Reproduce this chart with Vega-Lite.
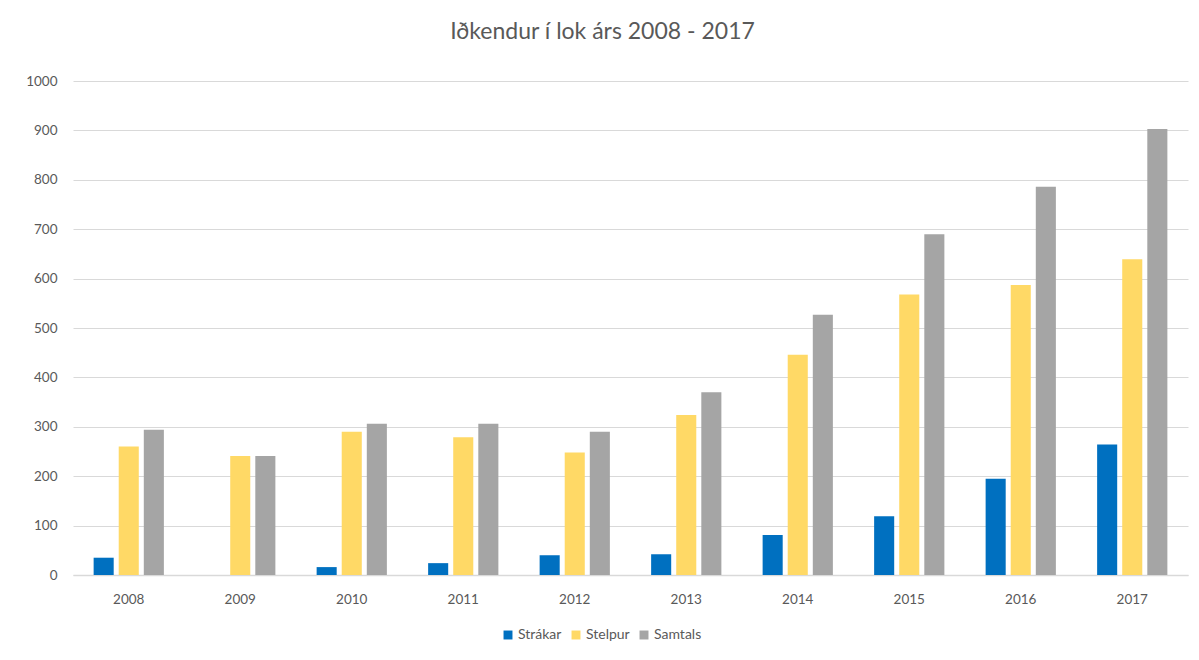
{
  "$schema": "https://vega.github.io/schema/vega-lite/v6.json",
  "autosize": "none",
  "width": 1115,
  "height": 494,
  "padding": {"left": 73, "top": 81, "right": 11, "bottom": 85},
  "background": "#ffffff",
  "title": {
    "text": "Iðkendur í lok árs 2008 - 2017",
    "font": "Lato",
    "fontSize": 23,
    "fontWeight": "normal",
    "color": "#595959",
    "anchor": "middle",
    "dx": -28,
    "offset": 30
  },
  "data": {
    "values": [
      {"year": "2008", "group": "Strákar", "value": 35},
      {"year": "2008", "group": "Stelpur", "value": 260},
      {"year": "2008", "group": "Samtals", "value": 294},
      {"year": "2009", "group": "Strákar", "value": 0},
      {"year": "2009", "group": "Stelpur", "value": 241},
      {"year": "2009", "group": "Samtals", "value": 241},
      {"year": "2010", "group": "Strákar", "value": 16},
      {"year": "2010", "group": "Stelpur", "value": 290},
      {"year": "2010", "group": "Samtals", "value": 306},
      {"year": "2011", "group": "Strákar", "value": 24},
      {"year": "2011", "group": "Stelpur", "value": 279},
      {"year": "2011", "group": "Samtals", "value": 306},
      {"year": "2012", "group": "Strákar", "value": 40},
      {"year": "2012", "group": "Stelpur", "value": 248},
      {"year": "2012", "group": "Samtals", "value": 290},
      {"year": "2013", "group": "Strákar", "value": 42},
      {"year": "2013", "group": "Stelpur", "value": 324},
      {"year": "2013", "group": "Samtals", "value": 370},
      {"year": "2014", "group": "Strákar", "value": 81},
      {"year": "2014", "group": "Stelpur", "value": 446},
      {"year": "2014", "group": "Samtals", "value": 527},
      {"year": "2015", "group": "Strákar", "value": 119},
      {"year": "2015", "group": "Stelpur", "value": 568},
      {"year": "2015", "group": "Samtals", "value": 690},
      {"year": "2016", "group": "Strákar", "value": 195},
      {"year": "2016", "group": "Stelpur", "value": 587},
      {"year": "2016", "group": "Samtals", "value": 786},
      {"year": "2017", "group": "Strákar", "value": 264},
      {"year": "2017", "group": "Stelpur", "value": 639},
      {"year": "2017", "group": "Samtals", "value": 903}
    ]
  },
  "mark": {"type": "bar"},
  "encoding": {
    "x": {
      "field": "year",
      "type": "nominal",
      "scale": {"paddingInner": 0.37, "paddingOuter": 0.185},
      "axis": {
        "title": null,
        "labelAngle": 0,
        "labelFont": "Lato",
        "labelFontSize": 13.5,
        "labelColor": "#595959",
        "labelPadding": 17,
        "ticks": false,
        "domainColor": "#d9d9d9",
        "domainWidth": 1.5,
        "grid": false
      }
    },
    "xOffset": {
      "field": "group",
      "type": "nominal",
      "sort": ["Strákar", "Stelpur", "Samtals"],
      "scale": {"paddingInner": 0.2, "paddingOuter": 0}
    },
    "y": {
      "field": "value",
      "type": "quantitative",
      "scale": {"domain": [0, 1000]},
      "axis": {
        "title": null,
        "format": "d",
        "values": [0, 100, 200, 300, 400, 500, 600, 700, 800, 900, 1000],
        "labelFont": "Lato",
        "labelFontSize": 13.5,
        "labelColor": "#595959",
        "labelPadding": 16,
        "ticks": false,
        "domain": false,
        "gridColor": "#d9d9d9",
        "gridWidth": 1.2
      }
    },
    "color": {
      "field": "group",
      "type": "nominal",
      "scale": {
        "domain": ["Strákar", "Stelpur", "Samtals"],
        "range": ["#0070c0", "#ffd966", "#a5a5a5"]
      },
      "legend": {
        "title": null,
        "orient": "none",
        "direction": "horizontal",
        "legendX": 428,
        "legendY": 547,
        "symbolType": "square",
        "symbolSize": 80,
        "symbolStrokeWidth": 0,
        "labelFont": "Lato",
        "labelFontSize": 14,
        "labelColor": "#595959",
        "labelOffset": 3,
        "columnPadding": 7
      }
    }
  },
  "config": {
    "view": {"stroke": null}
  }
}
